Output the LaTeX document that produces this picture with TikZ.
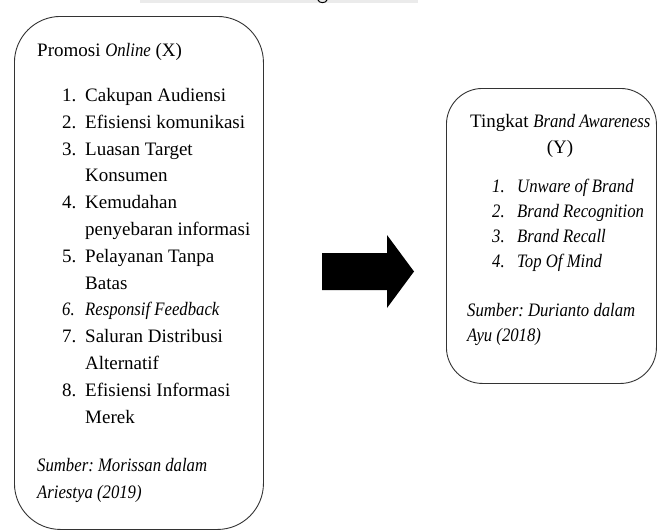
\documentclass[tikz,border=0pt]{standalone}
\usepackage{fontspec}
\setmainfont[UprightFeatures={FakeStretch=1.0},ItalicFeatures={FakeStretch=0.88}]{Liberation Serif}
\frenchspacing
\begin{document}
\begin{tikzpicture}[x=1pt,y=-1pt,
  txt/.style={anchor=base west, inner sep=0pt, font=\fontsize{19}{22}\selectfont},
  ctxt/.style={anchor=base, inner sep=0pt, font=\fontsize{19}{22}\selectfont},
  box/.style={draw=black!80, line width=0.9pt, rounded corners=46pt, anchor=north west, inner sep=0pt},
  blockarrow/.style={fill=black}]
\useasboundingbox (0,0) rectangle (658,530);
\fill[black!8] (140,0) rectangle (418,2.5);
\draw[line width=1pt] (318,0) .. controls (319,3.5) and (326,3.5) .. (327,0);
% boxes
\node[box, minimum width=249pt, minimum height=513pt] (lbox) at (14,16) {};
\node[box, minimum width=210pt, minimum height=295pt, rounded corners=36pt] (rbox) at (446,88) {};
% left text
\node[txt] (lt) at (37,56) {Promosi \textit{Online} (X)};
\node[txt] (n1) at (62,101.4) {1.};  \node[txt] (t1) at (85,101.4) {Cakupan Audiensi};
\node[txt] (n2) at (62,128.2) {2.};  \node[txt] (t2) at (85,128.2) {Efisiensi komunikasi};
\node[txt] (n3) at (62,155) {3.};    \node[txt] (t3) at (85,155) {Luasan Target};
\node[txt] (t3b) at (85,181.8) {Konsumen};
\node[txt] (n4) at (62,208.6) {4.};  \node[txt] (t4) at (85,208.6) {Kemudahan};
\node[txt] (t4b) at (85,235.4) {penyebaran informasi};
\node[txt] (n5) at (62,262.2) {5.};  \node[txt] (t5) at (85,262.2) {Pelayanan Tanpa};
\node[txt] (t5b) at (85,289) {Batas};
\node[txt] (n6) at (62,315.8) {\textit{6.}};  \node[txt] (t6) at (85,315.8) {\textit{Responsif Feedback}};
\node[txt] (n7) at (62,342.6) {7.};  \node[txt] (t7) at (85,342.6) {Saluran Distribusi};
\node[txt] (t7b) at (85,369.4) {Alternatif};
\node[txt] (n8) at (62,396.2) {8.};  \node[txt] (t8) at (85,396.2) {Efisiensi Informasi};
\node[txt] (t8b) at (85,423) {Merek};
\node[txt] (ls1) at (37,471) {\textit{Sumber: Morissan dalam}};
\node[txt] (ls2) at (37,498) {\textit{Ariestya (2019)}};
% arrow
\fill[blockarrow] (322,253) -- (387,253) -- (387,235) -- (414,271.5) -- (387,308) -- (387,290) -- (322,290) -- cycle;
% right text
\node[txt] (rt) at (470,127) {Tingkat \textit{Brand Awareness}};
\node[ctxt] (ry) at (560,153) {(Y)};
\node[txt] (m1) at (492,192) {\textit{1.}};  \node[txt] (u1) at (517,192) {\textit{Unware of Brand}};
\node[txt] (m2) at (492,217) {\textit{2.}};  \node[txt] (u2) at (517,217) {\textit{Brand Recognition}};
\node[txt] (m3) at (492,242) {\textit{3.}};  \node[txt] (u3) at (517,242) {\textit{Brand Recall}};
\node[txt] (m4) at (492,267) {\textit{4.}};  \node[txt] (u4) at (517,267) {\textit{Top Of Mind}};
\node[txt] (rs1) at (467,316) {\textit{Sumber: Durianto dalam}};
\node[txt] (rs2) at (467,341) {\textit{Ayu (2018)}};
\end{tikzpicture}
\end{document}
